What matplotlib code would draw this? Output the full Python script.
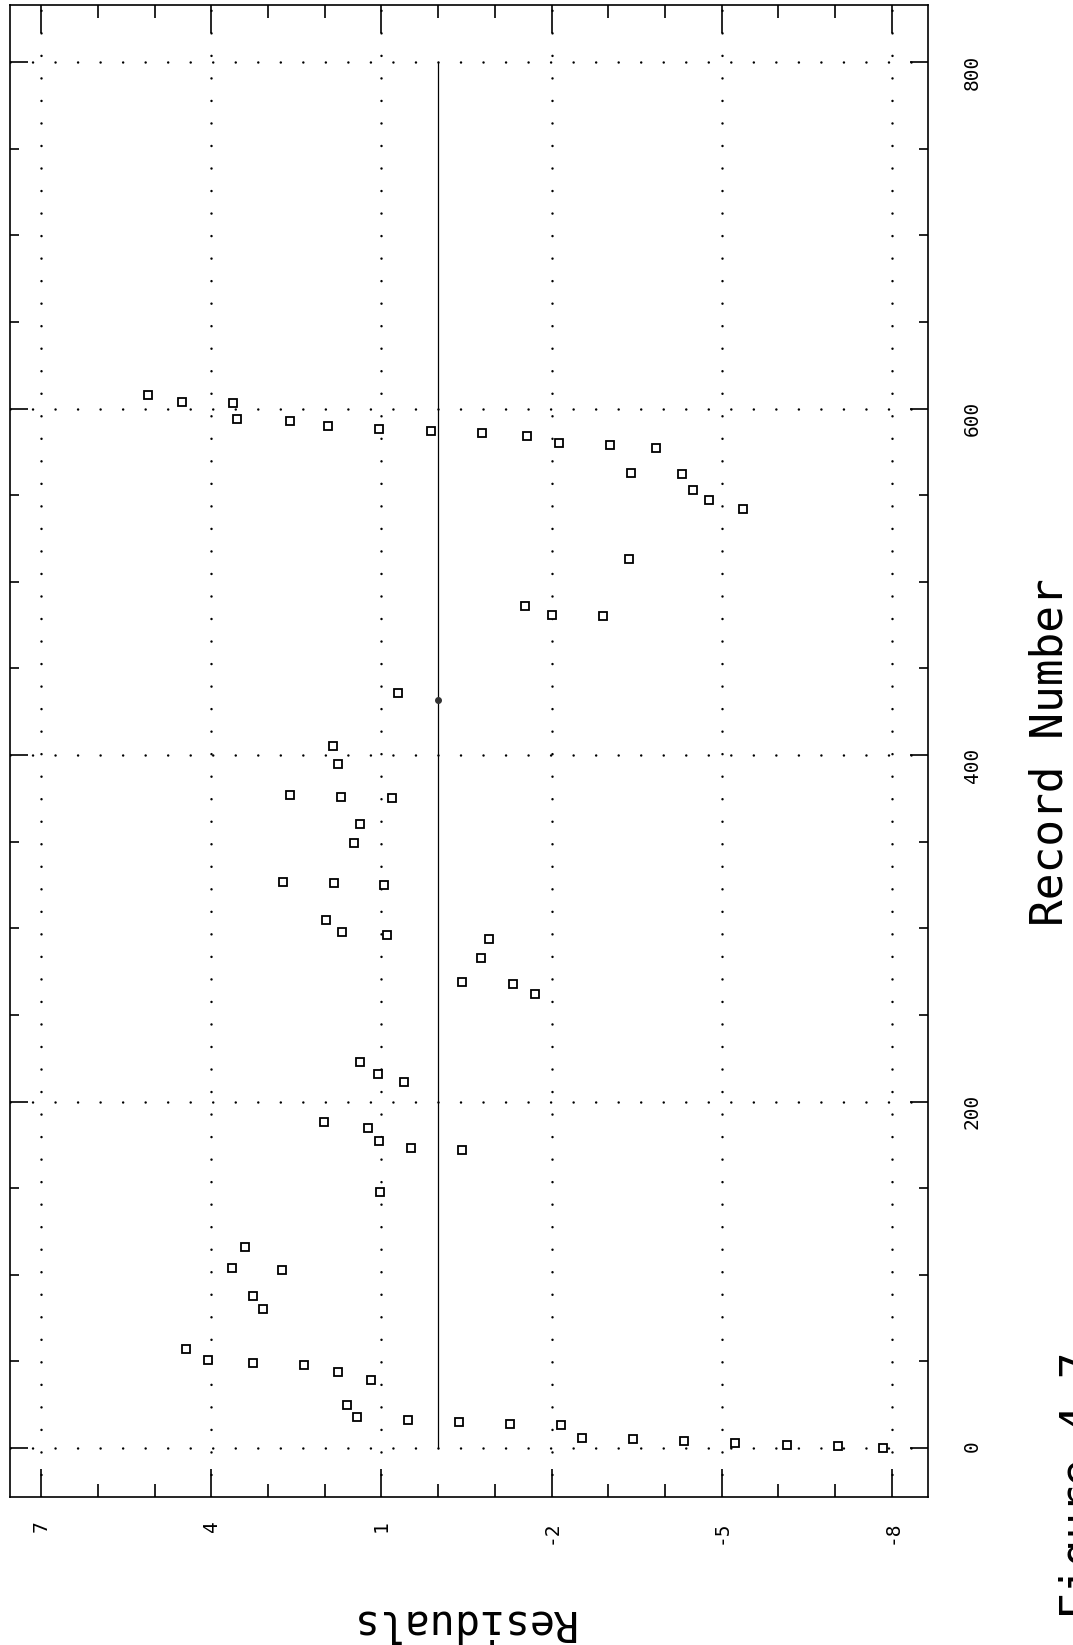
import matplotlib
matplotlib.use('Agg')
import matplotlib.pyplot as plt

# residuals (record number, residual)
record_no = [0, 1, 2, 3, 4, 5, 6, 13, 14, 15, 16, 18, 25, 39, 44, 48, 49, 51, 57,
             80, 88, 103, 104, 116, 148, 172, 173, 177, 185, 188, 211, 216, 223,
             262, 268, 269, 283, 294, 296, 298, 305, 325, 326, 327, 349, 360,
             375, 376, 377, 395, 405, 436, 480, 481, 486, 513, 542, 547, 553,
             562, 563, 577, 579, 580, 584, 586, 587, 588, 590, 593, 594, 603,
             604, 608]
residuals = [-7.85, -7.05, -6.15, -5.24, -4.33, -3.43, -2.54, -2.16, -1.27, -0.37,
             0.53, 1.43, 1.61, 1.19, 1.77, 2.36, 3.26, 4.05, 4.45,
             3.09, 3.27, 2.75, 3.64, 3.41, 1.02, -0.43, 0.47, 1.05, 1.23, 2.02,
             0.60, 1.06, 1.38,
             -1.71, -1.32, -0.43, -0.76, -0.90, 0.90, 1.69, 1.98, 0.95, 1.84,
             2.73, 1.48, 1.37, 0.82, 1.71, 2.61, 1.77, 1.85, 0.70, -2.90, -2.01,
             -1.53, -3.37, -5.37, -4.77, -4.50, -4.31, -3.41, -3.84, -3.04,
             -2.14, -1.56, -0.77, 0.13, 1.04, 1.95, 2.62, 3.55, 3.62, 4.52, 5.11]

# dark blot sitting on the zero line
blot_rec = [432]
blot_res = [0.0]

zero_line_rec = [0, 800]

res_ticks = [7, 4, 1, -2, -5, -8]
res_minor = [6, 5, 3, 2, 0, -1, -3, -4, -6, -7]
rec_ticks = [0, 200, 400, 600, 800]
rec_minor = [50, 100, 150, 250, 300, 350, 450, 500, 550, 650, 700, 750]

plt.rcParams['font.family'] = ['DejaVu Sans Mono']
plt.rcParams['axes.unicode_minus'] = False

W, H = 1073, 1645
fig = plt.figure(figsize=(W / 100, H / 100), dpi=100)
ax = fig.add_axes([10 / W, 1 - 1497 / H, 918 / W, 1492 / H])

# chart is printed sideways: residual runs right-to-left, record runs upward
ax.plot(residuals, record_no, ls='none', marker='s', ms=5.5, mfc='white',
        mec='black', mew=1.3, zorder=3)
ax.plot(blot_res, blot_rec, ls='none', marker='o', ms=4, color='#333333', zorder=3)
ax.plot([0, 0], zero_line_rec, color='black', lw=0.9, zorder=2)

ax.set_xlim(7.55, -8.64)
ax.set_ylim(-28.3, 833)

ax.set_xticks(res_ticks)
ax.set_xticks(res_minor, minor=True)
ax.set_yticks(rec_ticks)
ax.set_yticks(rec_minor, minor=True)

ax.grid(True, which='major', color='black', lw=1.8, linestyle=(0, (0.01, 9)),
        dash_capstyle='round')

ax.tick_params(axis='x', which='major', direction='in', length=20, width=1.2,
               top=True, bottom=True, labelbottom=True, labeltop=False,
               labelrotation=90, labelsize=14, pad=17)
ax.tick_params(axis='x', which='minor', direction='in', length=9.5, width=1.2,
               top=True, bottom=True)
ax.tick_params(axis='y', which='major', direction='in', length=13, width=1.2,
               left=True, right=True, labelleft=False, labelright=True,
               labelrotation=90, labelsize=14, pad=25)
ax.tick_params(axis='y', which='minor', direction='in', length=6.5, width=1.2,
               left=True, right=True)

for s in ax.spines.values():
    s.set_linewidth(1.2)

fig.text(1050 / W, 1 - 752 / H, 'Record Number', rotation=90, ha='center',
         va='center', fontsize=32)
fig.text(462 / W, 1 - 1622 / H, 'Residuals', rotation=180, ha='center',
         va='center', fontsize=30)
fig.text(1059 / W, 1 - 1485 / H, 'Figure 4.7', rotation=90, ha='left',
         va='center', fontsize=32)

fig.savefig('out.png', dpi=100)
